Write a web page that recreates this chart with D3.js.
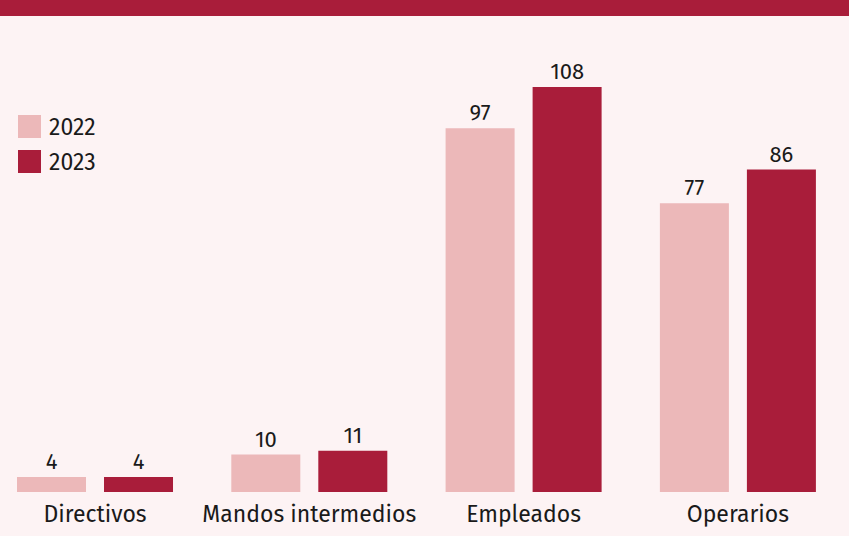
<!DOCTYPE html>
<meta charset="utf-8">
<html>
<head>
    <script src="https://d3js.org/d3.v7.js"></script>
    <style>
        body { margin: 0; background: #fdf3f4; }
        text { font-family: "Fira Sans", "Noto Sans", sans-serif; fill: #1a1a1a; }
    </style>
</head>
<body>
    <script>
        // categorias y series
        const categories = ["Directivos", "Mandos intermedios", "Empleados", "Operarios"];
        const years = ["2022", "2023"];
        const values2022 = [4, 10, 97, 77];
        const values2023 = [4, 11, 108, 86];
        const colors = ["#ecb8b9", "#a91d3a"];

        const width = 849;
        const height = 536;

        const svg = d3.select('body')
            .append('svg')
            .attr('width', width)
            .attr('height', height);

        svg.append('rect')
            .attr('width', width)
            .attr('height', height)
            .attr('fill', '#fdf3f4');

        // banda superior
        svg.append('rect')
            .attr('width', width)
            .attr('height', 16)
            .attr('fill', '#a91d3a');

        const x0 = d3.scaleBand()
            .domain(categories)
            .range([-11.5, 844.4])
            .paddingInner(0.272)
            .paddingOuter(0.133);

        const x1 = d3.scaleBand()
            .domain(years)
            .range([0, x0.bandwidth()])
            .paddingInner(0.207);

        const y = d3.scaleLinear()
            .domain([0, 108])
            .range([492, 87]);

        const series = [values2022, values2023];

        const groups = svg.selectAll('g.group')
            .data(categories)
            .enter()
            .append('g')
            .attr('class', 'group')
            .attr('transform', d => `translate(${x0(d)},0)`);

        groups.selectAll('rect')
            .data((d, i) => years.map((yr, j) => ({ year: yr, value: series[j][i], color: colors[j] })))
            .enter()
            .append('rect')
            .attr('x', d => x1(d.year))
            .attr('y', d => y(d.value))
            .attr('width', x1.bandwidth())
            .attr('height', d => y(0) - y(d.value))
            .attr('fill', d => d.color);

        groups.selectAll('text.value')
            .data((d, i) => years.map((yr, j) => ({ year: yr, value: series[j][i] })))
            .enter()
            .append('text')
            .attr('class', 'value')
            .attr('x', d => x1(d.year) + x1.bandwidth() / 2)
            .attr('y', d => y(d.value) - 8)
            .attr('text-anchor', 'middle')
            .style('font-size', '22px')
            .text(d => d.value);

        // etiquetas de categoria
        groups.append('text')
            .attr('x', x0.bandwidth() / 2)
            .attr('y', 522)
            .attr('text-anchor', 'middle')
            .style('font-size', '23px')
            .text(d => d);

        // leyenda
        const legend = svg.append('g')
            .attr('transform', 'translate(18,115)');

        const item = legend.selectAll('g')
            .data(years)
            .enter()
            .append('g')
            .attr('transform', (d, i) => `translate(0,${i * 35})`);

        item.append('rect')
            .attr('width', 23)
            .attr('height', 23)
            .attr('fill', (d, i) => colors[i]);

        item.append('text')
            .attr('x', 31)
            .attr('y', 20)
            .style('font-size', '23px')
            .text(d => d);
    </script>
</body>
</html>
